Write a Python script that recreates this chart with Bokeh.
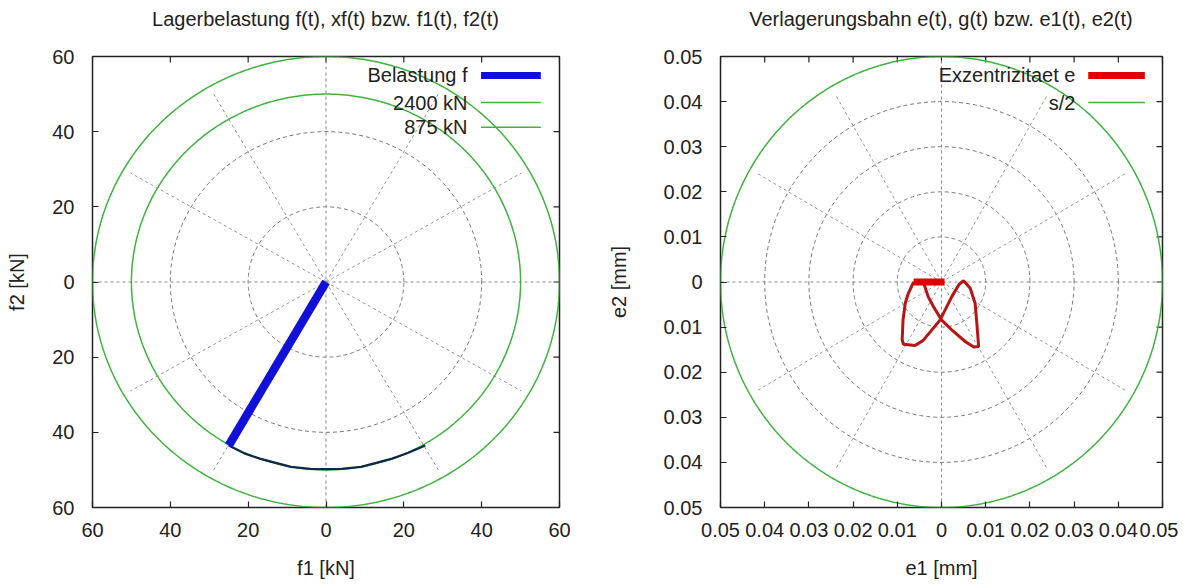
import numpy as np
from bokeh.plotting import figure
from bokeh.layouts import row, column
from bokeh.models import (Range1d, FixedTicker, CustomJSTickFormatter,
                          Label, BoxAnnotation, Div)
from bokeh.embed import file_html
from bokeh.resources import INLINE

# ---------------- data: left chart (Lagerbelastung) ----------------
f_ticks = [-60, -40, -20, 0, 20, 40, 60]
f_tick_labels = ["60", "40", "20", "0", "20", "40", "60"]
f_grid_radii = [20, 40]
f_spoke_angles = [30, 60, 120, 150, 210, 240, 300, 330]
f_green_radii = [60, 50]
f_green_names = ["2400 kN", "875 kN"]
belastung_f1 = [0.0, -25.0]
belastung_f2 = [0.0, -43.5]
bahn_f1 = [-25.0, -21.0, -17.0, -9.0, -4.0, 0.0, 4.0, 9.0, 17.0, 21.0, 25.5]
bahn_f2 = [-43.5, -45.6, -47.0, -49.2, -49.7, -49.8, -49.7, -49.2, -47.0, -45.5, -43.5]

# ---------------- data: right chart (Verlagerungsbahn) ----------------
e_ticks = [-0.05, -0.04, -0.03, -0.02, -0.01, 0.0, 0.01, 0.02, 0.03, 0.04, 0.05]
e_tick_labels = ["0.05", "0.04", "0.03", "0.02", "0.01", "0",
                 "0.01", "0.02", "0.03", "0.04", "0.05"]
e_grid_radii = [0.01, 0.02, 0.03, 0.04]
e_spoke_angles = [30, 60, 120, 150, 210, 240, 300, 330]
e_green_radius = 0.05
ecc_bar_e1 = [-0.0063, 0.0007]
ecc_bar_e2 = [0.0, 0.0]
ecc_e1 = [-0.0063, -0.0075, -0.0082, -0.0087, -0.0089, -0.0086, -0.0060, -0.0042,
          -0.0025, -0.0003, 0.0023, 0.0040, 0.0050, 0.0065, 0.0076, 0.0080, 0.0084,
          0.0073, 0.0055, 0.0025, 0.0, -0.0018, -0.0030, -0.0040]
ecc_e2 = [0.0, -0.0025, -0.0047, -0.0084, -0.0128, -0.0138, -0.0141, -0.0130,
          -0.0110, -0.0084, -0.0033, -0.0005, 0.0003, -0.0014, -0.0047, -0.0092, -0.0143,
          -0.0144, -0.0133, -0.0108, -0.0084, -0.0055, -0.0033, -0.0003]

FONT = "Liberation Sans"
FS = "20px"
TXT = "#222222"
FRAME_H = 451
TITLE_H = 38


def tick_formatter(tick_values, labels):
    return CustomJSTickFormatter(args=dict(tvals=tick_values, tlabels=labels), code="""
        let best = 0;
        for (let k = 0; k < tvals.length; k++) {
            if (Math.abs(tvals[k] - tick) < Math.abs(tvals[best] - tick)) best = k;
        }
        return tlabels[best];
    """)


def title_div(text, fw, bl, br):
    return Div(text=text, width=fw, height=TITLE_H, margin=(0, br, 0, bl),
               styles={"text-align": "center", "font-family": FONT, "font-size": FS,
                       "color": TXT, "line-height": f"{TITLE_H}px", "white-space": "nowrap"})


def make_fig(rng, tick_values, labels, xlabel, ylabel, fw, bl, br, ylab_standoff):
    p = figure(frame_width=fw, frame_height=FRAME_H,
               x_range=Range1d(-rng, rng), y_range=Range1d(-rng, rng),
               output_backend="svg", toolbar_location=None,
               min_border_left=bl, min_border_right=br,
               min_border_top=18, min_border_bottom=69,
               x_axis_label=xlabel, y_axis_label=ylabel)
    p.background_fill_color = "white"
    p.border_fill_color = "white"
    p.outline_line_color = "#222222"
    p.outline_line_width = 1.5
    p.xgrid.visible = False
    p.ygrid.visible = False
    fmt = tick_formatter(tick_values, labels)
    for ax in (p.xaxis[0], p.yaxis[0]):
        ax.ticker = FixedTicker(ticks=tick_values)
        ax.formatter = fmt
        ax.major_tick_in = 6
        ax.major_tick_out = 0
        ax.minor_tick_line_color = None
        ax.axis_line_color = None
        ax.major_tick_line_color = "#222222"
        ax.major_tick_line_width = 1.2
        ax.major_label_text_font = FONT
        ax.major_label_text_font_size = FS
        ax.major_label_text_color = TXT
        ax.axis_label_text_font = FONT
        ax.axis_label_text_font_size = FS
        ax.axis_label_text_font_style = "normal"
        ax.axis_label_text_color = TXT
    p.xaxis[0].major_label_standoff = 15
    p.yaxis[0].major_label_standoff = 18
    p.xaxis[0].axis_label_standoff = 17
    p.yaxis[0].axis_label_standoff = ylab_standoff
    # mirrored inward ticks on top and right edges of the frame
    span = 2 * rng
    tv = np.array(tick_values, dtype=float)
    tlen_y = 6 * span / FRAME_H
    tlen_x = 6 * span / fw
    p.segment(x0=tv, y0=np.full_like(tv, rng), x1=tv, y1=np.full_like(tv, rng - tlen_y),
              line_color="#222222", line_width=1.2)
    p.segment(x0=np.full_like(tv, rng), y0=tv, x1=np.full_like(tv, rng - tlen_x), y1=tv,
              line_color="#222222", line_width=1.2)
    return p


def polar_grid(p, radii, spokes, rmax, spoke_len):
    th = np.linspace(0, 2 * np.pi, 361)
    for r in radii:
        p.line(r * np.cos(th), r * np.sin(th), line_color="#777777", line_width=1,
               line_dash="4 3")
    for a in spokes:
        t = np.deg2rad(a)
        p.line([0, spoke_len * np.cos(t)], [0, spoke_len * np.sin(t)],
               line_color="#999999", line_width=1, line_dash="3 3")
    p.line([-rmax, rmax], [0, 0], line_color="#888888", line_width=1, line_dash="3 3")
    p.line([0, 0], [-rmax, rmax], line_color="#888888", line_width=1, line_dash="3 3")


def circle_line(p, r, color, width):
    th = np.linspace(0, 2 * np.pi, 721)
    p.line(r * np.cos(th), r * np.sin(th), line_color=color, line_width=width)


def legend(p, rng, entries):
    # entries: (text, color, thickness_in_px); positions as frame fractions
    span = 2 * rng
    row_fracs = [0.042, 0.102, 0.157]
    px_y = span / FRAME_H
    for (txt, color, thick), fr in zip(entries, row_fracs):
        yc = rng - fr * span
        p.add_layout(Label(x=-rng + 0.803 * span, y=yc, text=txt, text_align="right",
                           text_baseline="middle", text_font=FONT, text_font_size=FS,
                           text_color=TXT))
        p.add_layout(BoxAnnotation(left=-rng + 0.832 * span, right=-rng + 0.96 * span,
                                   bottom=yc - thick / 2 * px_y, top=yc + thick / 2 * px_y,
                                   fill_color=color, fill_alpha=1.0, line_color=None))


GREEN = "#3fb33f"

# ---------------- left figure ----------------
L_FW, L_BL, L_BR = 467, 92, 30
t1 = title_div("Lagerbelastung f(t), xf(t) bzw. f1(t), f2(t)", L_FW, L_BL, L_BR)
p1 = make_fig(60, f_ticks, f_tick_labels, "f1 [kN]", "f2 [kN]", L_FW, L_BL, L_BR, 21)
polar_grid(p1, f_grid_radii, f_spoke_angles, 60, 58)
for r in f_green_radii:
    circle_line(p1, r, GREEN, 1.5)
p1.line(bahn_f1, bahn_f2, line_color="#10284a", line_width=2.2)
p1.line(belastung_f1, belastung_f2, line_color="#1010d8", line_width=8.5)
legend(p1, 60, [("Belastung f", "#1010d8", 7),
                (f_green_names[0], GREEN, 1.6),
                (f_green_names[1], GREEN, 1.6)])

# ---------------- right figure ----------------
R_FW, R_BL, R_BR = 442, 131, 16
t2 = title_div("Verlagerungsbahn e(t), g(t) bzw. e1(t), e2(t)", R_FW, R_BL, R_BR)
p2 = make_fig(0.05, e_ticks, e_tick_labels, "e1 [mm]", "e2 [mm]", R_FW, R_BL, R_BR, 31)
polar_grid(p2, e_grid_radii, e_spoke_angles, 0.05, 0.048)
circle_line(p2, e_green_radius, GREEN, 1.5)
p2.line(ecc_e1, ecc_e2, line_color="#b81414", line_width=3)
p2.line(ecc_bar_e1, ecc_bar_e2, line_color="#e00000", line_width=7)
legend(p2, 0.05, [("Exzentrizitaet e", "#e00000", 7),
                  ("s/2", GREEN, 1.6)])

layout = column(row(t1, t2), row(p1, p2))
open("out.html", "w").write(file_html(layout, INLINE))
